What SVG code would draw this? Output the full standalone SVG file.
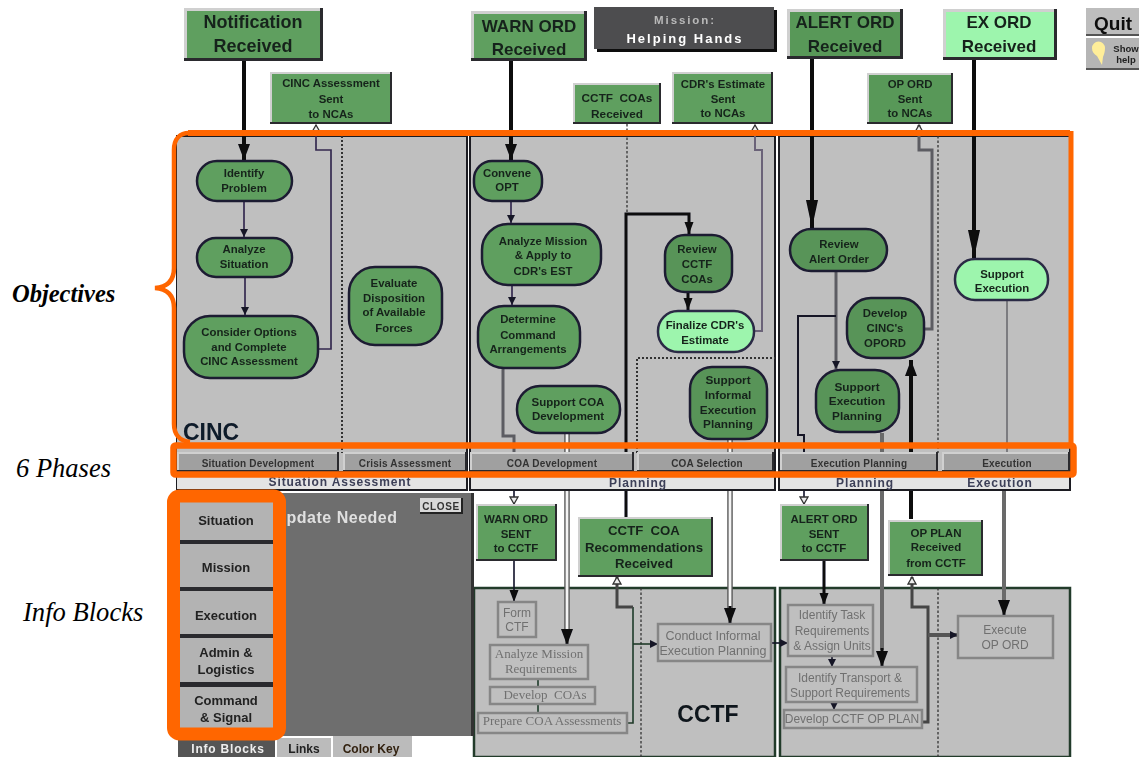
<svg xmlns="http://www.w3.org/2000/svg" width="1139" height="757" viewBox="0 0 1139 757">
<style>
text{font-family:"Liberation Sans",Arial,sans-serif;text-anchor:middle}
.d{fill:#2b2b2f}.l{fill:#d0d0d0}.g{fill:#5f9f5f}.lg{fill:#9df5ad}.b{fill:#a0a0a0}
.p{fill:#5f9f5f;stroke:#1e1a33;stroke-width:2.5}.pd{fill:#589458;stroke:#1e1a33;stroke-width:2.5}.pl{fill:#9df5ad;stroke:#2a2a44;stroke-width:2.5}
.t{font-weight:700;fill:#16241a}.t18{font-size:18px}.t17{font-size:17px}.t13{font-size:13.2px}.t12{font-size:11.8px}.t11{font-size:11.5px}.t10{font-size:11.4px}
.ph{font-size:10px;font-weight:700;fill:#333;letter-spacing:.2px}
.st{font-size:12px;font-weight:700;fill:#3d4058;letter-spacing:.9px}
.ib{font-size:13px;font-weight:700;fill:#222}
.panel{fill:#bfbfbf;stroke:#1c1c20;stroke-width:2}
.strip{fill:#e4e4e4;stroke:#1c1c20;stroke-width:2}
.low{fill:#bfbfbf;stroke:#243a2c;stroke-width:2.5}
.ir{fill:#bfbfbf;stroke:#868686;stroke-width:2.5}
.it{font-size:12px;fill:#707070}
.it.s{font-family:"Liberation Serif",serif;font-size:13px}
.it.w{font-size:12.5px}
.lab{font-family:"Liberation Serif","Times New Roman",serif;font-style:italic;fill:#000;text-anchor:start}
.c{fill:none;stroke-linejoin:miter}
.k4{stroke:#0a0a10;stroke-width:4}.k3{stroke:#0a0a10;stroke-width:3}.k2{stroke:#141428;stroke-width:1.6}
.u{stroke:#352a50;stroke-width:1.7}.y3{stroke:#5c5c62;stroke-width:3}.y4{stroke:#6a6a6a;stroke-width:4}.y2{stroke:#7c7c80;stroke-width:2}
.e{stroke:#555;stroke-width:5.5}.h{stroke:#f4f4f4;stroke-width:2.8}
.dash{stroke:#333;stroke-width:1.3;stroke-dasharray:2.5 2}.dot{stroke:#333;stroke-width:2;stroke-dasharray:2 2}
.o{fill:none;stroke:#f60}
</style>
<defs>
<filter id="soft" x="0" y="0" width="100%" height="100%"><feGaussianBlur stdDeviation="0.6"/></filter>
<marker id="aX" markerUnits="userSpaceOnUse" markerWidth="28" markerHeight="12" refX="28" refY="6" orient="auto"><path d="M0 0L28 6L0 12Z" fill="#0a0a10"/></marker>
<marker id="aL" markerUnits="userSpaceOnUse" markerWidth="16" markerHeight="12" refX="16" refY="6" orient="auto"><path d="M0 0L16 6L0 12Z" fill="#0a0a10"/></marker>
<marker id="aM" markerUnits="userSpaceOnUse" markerWidth="12" markerHeight="10" refX="12" refY="5" orient="auto"><path d="M0 0.500L12 5L0 9.500Z" fill="#0a0a10"/></marker>
<marker id="aS" markerUnits="userSpaceOnUse" markerWidth="8" markerHeight="8" refX="8" refY="4" orient="auto"><path d="M0 0L8 4L0 8Z" fill="#141428"/></marker>
<marker id="aO" markerUnits="userSpaceOnUse" markerWidth="9" markerHeight="10" refX="8" refY="5" orient="auto"><path d="M1 1L8 5L1 9Z" fill="#eee" stroke="#333" stroke-width="1.3"/></marker>
</defs>
<g id="diagram" filter="url(#soft)">
<g id="panels">
<rect class="panel" x="176" y="136" width="291" height="354"/>
<rect class="panel" x="470" y="136" width="305" height="354"/>
<rect class="panel" x="779" y="136" width="291" height="354"/>
<rect class="low" x="474" y="588" width="301" height="169"/>
<rect class="low" x="780" y="588" width="290" height="169"/>
<path class="c dot" d="M342 136V453"/>
<path class="c dash" d="M938 136V453M641 588V757M938 588V757"/>
<path class="c dot" d="M637 453V358H775"/>
<text x="211" y="440" font-size="23" font-weight="700" fill="#111a2a">CINC</text>
<text x="708" y="722" font-size="23" font-weight="700" fill="#10141a">CCTF</text>
</g>
<g id="connectors">
<path class="c k4" d="M244 61V160" marker-end="url(#aL)"/>
<path class="c k4" d="M511 61V160" marker-end="url(#aL)"/>
<path class="c u" d="M244 202V237" marker-end="url(#aS)"/>
<path class="c u" d="M245 278V315" marker-end="url(#aS)"/>
<path class="c u" d="M319 349H331V150H316V125" marker-end="url(#aO)"/>
<path class="c u" d="M511 202V223" marker-end="url(#aS)"/>
<path class="c u" d="M512 286V305" marker-end="url(#aS)"/>
<path class="c y3" d="M503 369V436H514V490"/>
<path class="c k2" d="M514 490V504" marker-end="url(#aO)"/>
<path class="c e" d="M567 434V632"/><path class="c h" d="M567 434V632"/>
<path class="c k3" d="M567 630V645" marker-end="url(#aL)"/>
<path class="c dash" d="M627 124V214"/>
<path class="c k3" d="M626 517V214H689V234" marker-end="url(#aM)"/>
<path class="c k3" d="M688 293V310" marker-end="url(#aM)"/>
<path class="c y3" style="stroke:#6a6278;stroke-width:2" d="M755 331H762V150H755V125" marker-end="url(#aO)"/>
<path class="c e" d="M730 440V610"/><path class="c h" d="M730 440V610"/>
<path class="c k3" d="M730 606V624" marker-end="url(#aL)"/>
<path class="c k4" d="M812 59V228" marker-end="url(#aX)"/>
<path class="c k4" d="M974 60V258" marker-end="url(#aX)"/>
<path class="c y3" d="M836 272V369" marker-end="url(#aS)"/>
<path class="c k2" style="stroke-width:2" d="M836 316H798V435H804V490"/>
<path class="c k2" d="M804 490V504" marker-end="url(#aO)"/>
<path class="c y3" d="M925 329H932V150H919V125" marker-end="url(#aO)"/>
<path class="c y4" d="M882 433V650"/><path class="c k3" d="M882 648V667" marker-end="url(#aL)"/>
<path class="c k4" d="M911 519V360" marker-end="url(#aL)"/>
<path class="c y2" d="M1007 301V453"/>
<path class="c y4" d="M1004 490V602"/><path class="c k3" d="M1004 600V616" marker-end="url(#aL)"/>
<path class="c k2" d="M514 561V602" marker-end="url(#aM)"/>
<path class="c k2" style="stroke:#1f3a28" d="M538 679V687M538 704V713"/>
<path class="c k2" style="stroke:#1f3a28" d="M627 723H633V607"/>
<path class="c y3" style="stroke:#444" d="M633 607H617V577" marker-end="url(#aO)"/>
<path class="c k2" style="stroke:#1f3a28" d="M633 644H658" marker-end="url(#aS)"/>
<path class="c k2" d="M771 643H788" marker-end="url(#aS)"/>
<path class="c k3" d="M824 561V605" marker-end="url(#aM)"/>
<path class="c k2" d="M832 656V667" marker-end="url(#aS)"/>
<path class="c k2" d="M834 702V710" marker-end="url(#aS)"/>
<path class="c y3" style="stroke:#444" d="M922 722H928V607H912V577" marker-end="url(#aO)"/>
<path class="c y4" style="stroke:#555" d="M928 635H958" marker-end="url(#aS)"/>
</g>
<g id="strip">
<rect class="strip" x="176" y="472" width="291" height="18"/>
<rect class="strip" x="470" y="472" width="305" height="18"/>
<rect class="strip" x="779" y="472" width="291" height="18"/>
<text class="st" x="340" y="486">Situation Assessment</text>
<text class="st" x="638" y="487">Planning</text>
<text class="st" x="865" y="487">Planning</text>
<text class="st" x="1000" y="487">Execution</text>
</g>
<g id="phase-situation-development"><rect class="d" x="177" y="452" width="162" height="20"/><rect class="l" x="177" y="452" width="160" height="18"/><rect class="b" x="179" y="454" width="158" height="16"/><text class="ph" x="258" y="467">Situation Development</text></g>
<g id="phase-crisis-assessment"><rect class="d" x="343" y="452" width="124" height="20"/><rect class="l" x="343" y="452" width="122" height="18"/><rect class="b" x="345" y="454" width="120" height="16"/><text class="ph" x="405" y="467">Crisis Assessment</text></g>
<g id="phase-coa-development"><rect class="d" x="470" y="452" width="164" height="20"/><rect class="l" x="470" y="452" width="162" height="18"/><rect class="b" x="472" y="454" width="160" height="16"/><text class="ph" x="552" y="467">COA Development</text></g>
<g id="phase-coa-selection"><rect class="d" x="637" y="452" width="137" height="20"/><rect class="l" x="637" y="452" width="135" height="18"/><rect class="b" x="639" y="454" width="133" height="16"/><text class="ph" x="707" y="467">COA Selection</text></g>
<g id="phase-execution-planning"><rect class="d" x="780" y="452" width="158" height="20"/><rect class="l" x="780" y="452" width="156" height="18"/><rect class="b" x="782" y="454" width="154" height="16"/><text class="ph" x="859" y="467">Execution Planning</text></g>
<g id="phase-execution"><rect class="d" x="942" y="452" width="128" height="20"/><rect class="l" x="942" y="452" width="126" height="18"/><rect class="b" x="944" y="454" width="124" height="16"/><text class="ph" x="1007" y="467">Execution</text></g>

<g id="notification-received"><rect class="d" x="184" y="8" width="139" height="53"/><rect class="l" x="184" y="8" width="136" height="50"/><rect class="g" x="187" y="11" width="133" height="47"/><text class="t t18" x="253" y="28">Notification</text><text class="t t18" x="253" y="52">Received</text></g>
<g id="warn-ord-received"><rect class="d" x="471" y="11" width="116" height="50"/><rect class="l" x="471" y="11" width="113" height="47"/><rect class="g" x="474" y="14" width="110" height="44"/><text class="t t17" x="529" y="32">WARN ORD</text><text class="t t17" x="529" y="55">Received</text></g>
<g id="mission"><rect x="597" y="10" width="180" height="42" fill="#111"/><rect x="594" y="7" width="180" height="42" fill="#4e4e50"/><text x="685" y="24" font-size="11.500" font-weight="700" fill="#b9b9b9" letter-spacing="1.900">Mission:</text><text x="685" y="43" font-size="13" font-weight="700" fill="#fff" letter-spacing="2">Helping Hands</text></g>
<g id="alert-ord-received"><rect class="d" x="787" y="9" width="116" height="50"/><rect class="l" x="787" y="9" width="113" height="47"/><rect class="g" x="790" y="12" width="110" height="44" style="fill:#599859"/><text class="t t17" x="845" y="28">ALERT ORD</text><text class="t t17" x="845" y="52">Received</text></g>
<g id="ex-ord-received"><rect class="d" x="943" y="9" width="114" height="51"/><rect class="l" x="943" y="9" width="111" height="48"/><rect class="lg" x="946" y="12" width="108" height="45"/><text class="t t17" x="999" y="28">EX ORD</text><text class="t t17" x="999" y="52">Received</text></g>
<g id="quit"><rect x="1086" y="8" width="53" height="28" fill="#555"/><rect x="1086" y="8" width="53" height="26" fill="#bdbdbd"/><text x="1113" y="30" font-size="19" font-weight="700" fill="#111">Quit</text></g>
<g id="show-help"><rect x="1086" y="38" width="53" height="32" fill="#555"/><rect x="1086" y="38" width="53" height="30" fill="#b5b5b5"/><path d="M1092 48a6.500 6.500 0 0 1 13 0c0 4-1 6-2 9l-1 8-5-9c-3-2-5-4-5-8z" fill="#ffee99"/><text x="1126" y="52" font-size="9.500" font-weight="700" fill="#222">Show</text><text x="1126" y="63" font-size="9.500" font-weight="700" fill="#222">help</text></g>
<g id="cinc-assessment-sent"><rect class="d" x="270" y="72" width="122" height="52"/><rect class="l" x="270" y="72" width="120" height="50"/><rect class="g" x="272" y="74" width="118" height="48"/><text class="t t10" x="331" y="87">CINC Assessment</text><text class="t t10" x="331" y="103">Sent</text><text class="t t10" x="331" y="118">to NCAs</text></g>
<g id="cctf-coas-received"><rect class="d" x="573" y="83" width="88" height="41"/><rect class="l" x="573" y="83" width="86" height="39"/><rect class="g" x="575" y="85" width="84" height="37"/><text class="t t12" x="617" y="102">CCTF&#160; COAs</text><text class="t t12" x="617" y="118">Received</text></g>
<g id="cdr-estimate-sent"><rect class="d" x="672" y="72" width="101" height="52"/><rect class="l" x="672" y="72" width="99" height="50"/><rect class="g" x="674" y="74" width="97" height="48"/><text class="t t10" x="723" y="88">CDR's Estimate</text><text class="t t10" x="723" y="103">Sent</text><text class="t t10" x="723" y="117">to NCAs</text></g>
<g id="op-ord-sent"><rect class="d" x="867" y="73" width="86" height="51"/><rect class="l" x="867" y="73" width="84" height="49"/><rect class="g" x="869" y="75" width="82" height="47" style="fill:#599859"/><text class="t t10" x="910" y="88">OP ORD</text><text class="t t10" x="910" y="103">Sent</text><text class="t t10" x="910" y="117">to NCAs</text></g>

<g id="identify-problem"><rect class="p" x="197" y="161" width="95" height="40" rx="20"/><text class="t t10" x="244" y="177">Identify</text><text class="t t10" x="244" y="192">Problem</text></g>
<g id="analyze-situation"><rect class="p" x="197" y="238" width="95" height="39" rx="19"/><text class="t t10" x="244" y="253">Analyze</text><text class="t t10" x="244" y="268">Situation</text></g>
<g id="consider-options"><rect class="p" x="184" y="316" width="134" height="62" rx="26"/><text class="t t10" x="249" y="336">Consider Options</text><text class="t t10" x="249" y="351">and Complete</text><text class="t t10" x="249" y="365">CINC Assessment</text></g>
<g id="evaluate-disposition"><rect class="p" x="349" y="267" width="93" height="78" rx="26"/><text class="t t10" x="394" y="287">Evaluate</text><text class="t t10" x="394" y="302">Disposition</text><text class="t t10" x="394" y="316">of Available</text><text class="t t10" x="394" y="332">Forces</text></g>
<g id="convene-opt"><rect class="p" x="474" y="161" width="68" height="40" rx="18"/><text class="t t10" x="507" y="177">Convene</text><text class="t t10" x="507" y="191">OPT</text></g>
<g id="analyze-mission"><rect class="p" x="482" y="224" width="119" height="61" rx="26"/><text class="t t10" x="543" y="245">Analyze Mission</text><text class="t t10" x="543" y="259">&amp; Apply to</text><text class="t t10" x="543" y="275">CDR's EST</text></g>
<g id="determine-command"><rect class="p" x="478" y="306" width="102" height="62" rx="26"/><text class="t t10" x="528" y="323">Determine</text><text class="t t10" x="528" y="339">Command</text><text class="t t10" x="528" y="353">Arrangements</text></g>
<g id="support-coa"><rect class="p" x="517" y="386" width="103" height="47" rx="23"/><text class="t t11" x="568" y="406">Support COA</text><text class="t t11" x="568" y="420">Development</text></g>
<g id="review-cctf-coas"><rect class="pd" x="665" y="235" width="67" height="57" rx="20"/><text class="t t10" x="697" y="253">Review</text><text class="t t10" x="697" y="268">CCTF</text><text class="t t10" x="697" y="283">COAs</text></g>
<g id="finalize-estimate"><rect class="pl" x="658" y="311" width="96" height="41" rx="20"/><text class="t t10" x="705" y="329">Finalize CDR's</text><text class="t t10" x="705" y="344">Estimate</text></g>
<g id="support-informal"><rect class="pd" x="690" y="367" width="77" height="72" rx="22"/><text class="t t12" x="728" y="384">Support</text><text class="t t12" x="728" y="399">Informal</text><text class="t t12" x="728" y="414">Execution</text><text class="t t12" x="728" y="428">Planning</text></g>
<g id="review-alert"><rect class="pd" x="790" y="229" width="97" height="42" rx="21"/><text class="t t10" x="839" y="248">Review</text><text class="t t10" x="839" y="263">Alert Order</text></g>
<g id="develop-opord"><rect class="pd" x="847" y="298" width="77" height="60" rx="24"/><text class="t t10" x="885" y="317">Develop</text><text class="t t10" x="885" y="332">CINC's</text><text class="t t10" x="885" y="347">OPORD</text></g>
<g id="support-execution-planning"><rect class="pd" x="816" y="370" width="83" height="62" rx="24"/><text class="t t12" x="857" y="391">Support</text><text class="t t12" x="857" y="405">Execution</text><text class="t t12" x="857" y="420">Planning</text></g>
<g id="support-execution"><rect class="pl" x="955" y="259" width="93" height="41" rx="20"/><text class="t t10" x="1002" y="278">Support</text><text class="t t10" x="1002" y="292">Execution</text></g>

<g id="info-panel"><rect x="273" y="493" width="198" height="243" fill="#6e6e6e"/><rect x="471" y="493" width="3" height="243" fill="#333"/><text x="336" y="523" font-size="16" font-weight="700" fill="#e0e0e0" letter-spacing=".5">Update Needed</text></g>
<g id="close"><rect x="420" y="498" width="43" height="16" fill="#222"/><rect x="420" y="498" width="41" height="14" fill="#d8d8d8"/><text x="441" y="510" font-size="10" font-weight="700" fill="#333" letter-spacing=".6">CLOSE</text></g>
<rect id="button-backing" x="180" y="502" width="93" height="226" fill="#2b2b2f"/>
<g id="btn-situation"><rect class="l" x="180" y="502" width="93" height="38" style="fill:#b3b3b3"/><text class="ib" x="226" y="525">Situation</text></g>
<g id="btn-mission"><rect class="l" x="180" y="544" width="93" height="43" style="fill:#b3b3b3"/><text class="ib" x="226" y="572">Mission</text></g>
<g id="btn-execution"><rect class="l" x="180" y="591" width="93" height="43" style="fill:#b3b3b3"/><text class="ib" x="226" y="620">Execution</text></g>
<g id="btn-admin"><rect class="l" x="180" y="638" width="93" height="44" style="fill:#b3b3b3"/><text class="ib" x="226" y="657">Admin &amp;</text><text class="ib" x="226" y="674">Logistics</text></g>
<g id="btn-command"><rect class="l" x="180" y="687" width="93" height="41" style="fill:#b3b3b3"/><text class="ib" x="226" y="705">Command</text><text class="ib" x="226" y="722">&amp; Signal</text></g>
<g id="tab-info-blocks"><rect x="178" y="738" width="97" height="19" fill="#555"/><text x="228" y="753" font-size="12" font-weight="700" fill="#eee" letter-spacing=".8">Info Blocks</text></g>
<g id="tab-links"><rect x="277" y="738" width="54" height="19" fill="#bbb"/><text x="304" y="753" font-size="12" font-weight="700" fill="#222">Links</text></g>
<g id="tab-color-key"><rect x="333" y="736" width="79" height="21" fill="#bbb"/><text x="371" y="753" font-size="12" font-weight="700" fill="#321">Color Key</text></g>

<g id="warn-ord-sent"><rect class="d" x="476" y="504" width="81" height="57"/><rect class="l" x="476" y="504" width="79" height="55"/><rect class="g" x="478" y="506" width="77" height="53"/><text class="t t11" x="516" y="523">WARN ORD</text><text class="t t11" x="516" y="538">SENT</text><text class="t t11" x="516" y="552">to CCTF</text></g>
<g id="cctf-coa-recommendations"><rect class="d" x="578" y="517" width="135" height="60"/><rect class="l" x="578" y="517" width="133" height="58"/><rect class="g" x="580" y="519" width="131" height="56"/><text class="t t13" x="644" y="535">CCTF&#160; COA</text><text class="t t13" x="644" y="552">Recommendations</text><text class="t t13" x="644" y="568">Received</text></g>
<g id="alert-ord-sent"><rect class="d" x="780" y="504" width="89" height="57"/><rect class="l" x="780" y="504" width="87" height="55"/><rect class="g" x="782" y="506" width="85" height="53"/><text class="t t11" x="824" y="523">ALERT ORD</text><text class="t t11" x="824" y="538">SENT</text><text class="t t11" x="824" y="552">to CCTF</text></g>
<g id="op-plan-received"><rect class="d" x="888" y="520" width="95" height="56"/><rect class="l" x="888" y="520" width="93" height="54"/><rect class="g" x="890" y="522" width="91" height="52"/><text class="t t11" x="936" y="537">OP PLAN</text><text class="t t11" x="936" y="551">Received</text><text class="t t11" x="936" y="567">from CCTF</text></g>

<g id="form-ctf"><rect class="ir" x="498" y="602" width="38" height="35"/><text class="it" x="517" y="617">Form</text><text class="it" x="517" y="631">CTF</text></g>
<g id="analyze-requirements"><rect class="ir" x="490" y="645" width="98" height="34"/><text class="it s" x="539" y="658">Analyze Mission</text><text class="it s" x="541" y="673">Requirements</text></g>
<g id="develop-coas"><rect class="ir" x="490" y="687" width="105" height="17"/><text class="it s" x="545" y="699">Develop&#160; COAs</text></g>
<g id="prepare-coa"><rect class="ir" x="478" y="713" width="149" height="20"/><text class="it s" x="552" y="725">Prepare COA Assessments</text></g>
<g id="conduct-informal"><rect class="ir" x="658" y="624" width="113" height="37"/><text class="it w" x="713" y="640">Conduct Informal</text><text class="it w" x="713" y="655">Execution Planning</text></g>
<g id="identify-task"><rect class="ir" x="788" y="605" width="85" height="51"/><text class="it" x="832" y="619">Identify Task</text><text class="it" x="832" y="635">Requirements</text><text class="it" x="832" y="650">&amp; Assign Units</text></g>
<g id="identify-transport"><rect class="ir" x="786" y="667" width="131" height="35"/><text class="it" x="850" y="682">Identify Transport &amp;</text><text class="it" x="850" y="697">Support Requirements</text></g>
<g id="develop-op-plan"><rect class="ir" x="784" y="710" width="138" height="18"/><text class="it" x="852" y="723">Develop CCTF OP PLAN</text></g>
<g id="execute-op-ord"><rect class="ir" x="958" y="616" width="95" height="42"/><text class="it" x="1005" y="634">Execute</text><text class="it" x="1005" y="649">OP ORD</text></g>
</g>
<g id="annotations">
<path class="o" stroke-width="6" d="M1070 133H188"/>
<path class="o" stroke-width="5" d="M1071 131V447"/>
<path class="o" stroke-width="4.500" d="M189 133C180 133 174 139 174 150V268C174 280 168 287 155 288C168 289 174 296 174 308V424C174 435 180 441 190 442"/>
<rect class="o" stroke-width="6.500" x="173.500" y="445.500" width="900" height="29" rx="2"/>
<rect class="o" stroke-width="13" x="173.500" y="496" width="106" height="238" rx="6"/>
<text class="lab" x="12" y="302" font-size="24.500" font-weight="700">Objectives</text>
<text class="lab" x="16" y="477" font-size="26.500">6 Phases</text>
<text class="lab" x="23" y="621" font-size="26.600">Info Blocks</text>
</g>
</svg>
